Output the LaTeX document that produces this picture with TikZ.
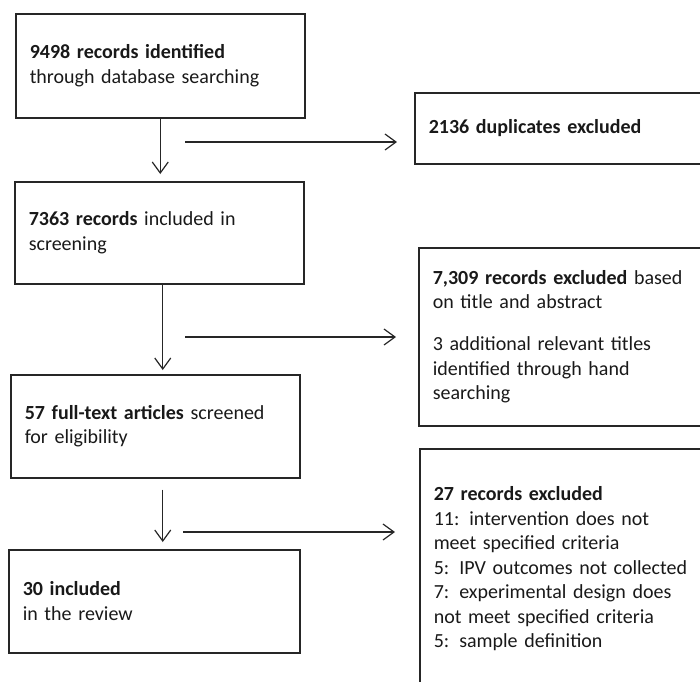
\documentclass[tikz,border=0pt]{standalone}
\usepackage{fontspec}
\setmainfont{Carlito}
\usetikzlibrary{arrows.meta,calc}
\begin{document}
\begin{tikzpicture}[x=1pt,y=-1pt,
  box/.style={draw=black!85, line width=1.5pt, rectangle, anchor=north west,
    inner xsep=14pt, inner ysep=0pt, align=left,
    font=\fontsize{20}{24.5}\selectfont, text=black!90},
  arr/.style={draw=black!85, line width=1.2pt,
    -{Straight Barb[length=11pt,width=16pt,line width=1.2pt]}}
]
\path[use as bounding box, clip] (0,0) rectangle (700,681);

\node[box, minimum width=289pt, minimum height=104pt, text width=261pt] (b1) at (15,13)
  {\textbf{9498 records identified}\\through database searching};
\node[box, minimum width=320pt, minimum height=71pt, text width=292pt] (b2) at (414,92)
  {\textbf{2136 duplicates excluded}};
\node[box, minimum width=289pt, minimum height=102pt, text width=261pt] (b3) at (14,181)
  {\textbf{7363 records} included in\\screening};
\node[box, minimum width=320pt, minimum height=178pt, text width=292pt] (b4) at (418,247)
  {\textbf{7,309 records excluded} based\\on title and abstract\\[17.5pt]3 additional relevant titles\\identified through hand\\searching};
\node[box, minimum width=289pt, minimum height=103pt, text width=261pt] (b5) at (10,374)
  {\textbf{57 full-text articles} screened\\for eligibility};
\node[box, minimum width=291pt, minimum height=103pt, text width=263pt] (b6) at (8,549)
  {\textbf{30 included}\\in the review};
\node[box, minimum width=320pt, minimum height=240pt, text width=292pt] (b7) at (419,448)
  {\textbf{27 records excluded}\\11: intervention does not\\meet specified criteria\\5: IPV outcomes not collected\\7: experimental design does\\not meet specified criteria\\5: sample definition};

\coordinate (h1) at (185,142);
\coordinate (h2) at (185,337);
\coordinate (h3) at (183,532);

\draw[arr, shorten >=7pt] (b1.south) -- (b1.south |- b3.north);
\draw[arr, shorten >=4pt] ([xshift=3.5pt]b3.south) -- ([xshift=3.5pt]b3.south |- b5.north);
\draw[arr, shorten <=11pt, shorten >=7pt] ([xshift=7.5pt]b5.south) -- ([xshift=7.5pt]b5.south |- b6.north);

\draw[arr, shorten >=17pt] (h1) -- (h1 -| b2.west);
\draw[arr, shorten >=22pt] (h2) -- (h2 -| b4.west);
\draw[arr, shorten >=24pt] (h3) -- (h3 -| b7.west);
\end{tikzpicture}
\end{document}
